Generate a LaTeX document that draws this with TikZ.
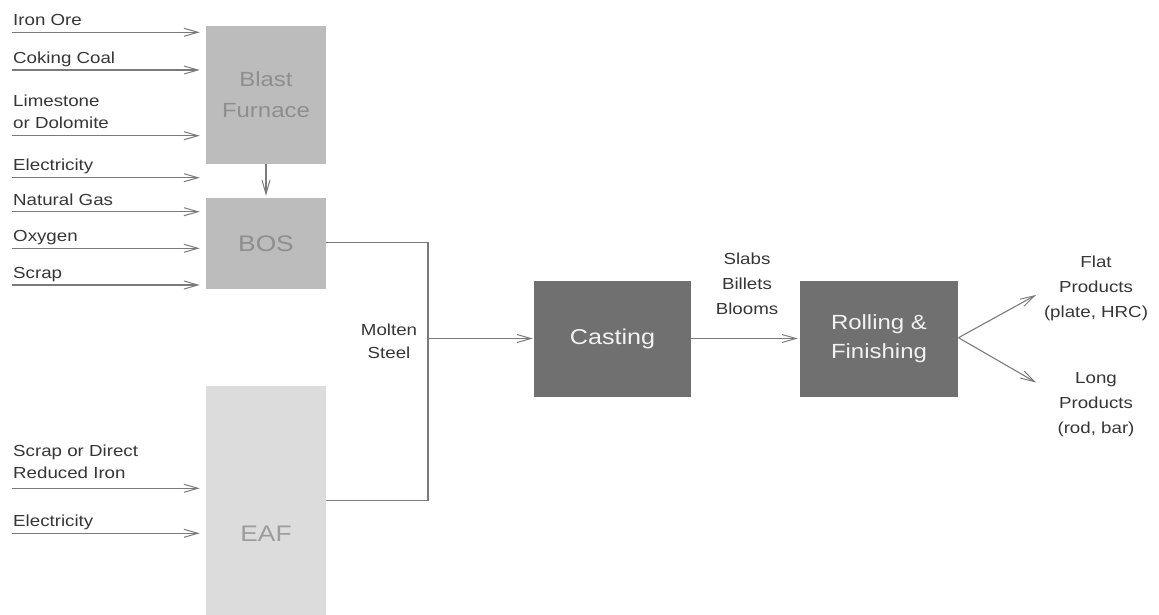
\documentclass[tikz,border=0pt]{standalone}
\usepackage{fontspec}
\setmainfont{Liberation Sans}[FakeStretch=1.17]
\usetikzlibrary{arrows.meta}
\definecolor{lightbox}{HTML}{BCBCBD}
\definecolor{paleBox}{HTML}{DCDCDD}
\definecolor{darkbox}{HTML}{707071}
\definecolor{lightboxtext}{HTML}{8E8E8E}
\definecolor{paleboxtext}{HTML}{9C9C9C}
\definecolor{darkboxtext}{HTML}{F2F2F2}
\definecolor{labeltext}{HTML}{363636}
\definecolor{linecol}{HTML}{7A7A7A}
\tikzset{
  x=1pt, y=-1pt,
  procbox/.style={draw=none, inner sep=0pt, align=center},
  lightproc/.style={procbox, fill=lightbox, text=lightboxtext},
  paleproc/.style={procbox, fill=paleBox, text=paleboxtext},
  darkproc/.style={procbox, fill=darkbox, text=darkboxtext},
  inlabel/.style={inner sep=0pt, anchor=base west, align=left, text=labeltext,
     font=\fontsize{16}{22}\selectfont},
  midlabel/.style={inner sep=0pt, align=center, text=labeltext,
     font=\fontsize{16}{25}\selectfont},
  flow/.style={draw=linecol, line width=1.1pt,
     -{Straight Barb[length=14pt,width=8pt,line width=1pt]}},
  plainflow/.style={draw=linecol, line width=1.1pt},
}
\begin{document}
\begin{tikzpicture}
\useasboundingbox (0,0) rectangle (1159,615);

% process boxes
\node[lightproc, minimum width=120pt, minimum height=138pt,
      font=\fontsize{20.5}{31}\selectfont] (bf) at (266,95) {Blast\\Furnace};
\node[lightproc, minimum width=120pt, minimum height=91pt,
      font=\fontsize{22.5}{28}\selectfont] (bos) at (266,243.5) {BOS};
\path[fill=paleBox] (206,386) rectangle (326,615);
\node[paleproc, fill=none, minimum width=120pt, minimum height=229pt] (eaf) at (266,500.5) {};
\node[inner sep=0pt, text=paleboxtext, font=\fontsize{22.5}{28}\selectfont] (eaftxt) at (266,533.5) {EAF};
\node[darkproc, minimum width=157pt, minimum height=116pt,
      font=\fontsize{21.5}{28}\selectfont] (cast) at (612.5,339) {Casting};
\node[darkproc, minimum width=158pt, minimum height=116pt,
      font=\fontsize{20.5}{29}\selectfont] (roll) at (879,339) {Rolling \&\\Finishing};

% inputs
\coordinate (i1) at (12,32.3);
\coordinate (i2) at (12,70);
\coordinate (i3) at (12,135.7);
\coordinate (i4) at (12,177.7);
\coordinate (i5) at (12,211.7);
\coordinate (i6) at (12,248.3);
\coordinate (i7) at (12,285);
\coordinate (e1) at (12,488.3);
\coordinate (e2) at (12,533.3);

\foreach \c in {i1,i2,i3,i4} {
  \draw[flow, shorten >=6pt] (\c) -- (\c -| bf.west);
}
\foreach \c in {i5,i6,i7} {
  \draw[flow, shorten >=6pt] (\c) -- (\c -| bos.west);
}
\foreach \c in {e1,e2} {
  \draw[flow, shorten >=6pt] (\c) -- (\c -| eaf.west);
}

\node[inlabel] (l1) at (13,26) {Iron Ore};
\node[inlabel] (l2) at (13,63.5) {Coking Coal};
\node[inlabel] (l3) at (13,128.5) {Limestone\\or Dolomite};
\node[inlabel] (l4) at (13,171) {Electricity};
\node[inlabel] (l5) at (13,205) {Natural Gas};
\node[inlabel] (l6) at (13,241.5) {Oxygen};
\node[inlabel] (l7) at (13,278) {Scrap};
\node[inlabel] (l8) at (13,478) {Scrap or Direct\\Reduced Iron};
\node[inlabel] (l9) at (13,526.5) {Electricity};

% blast furnace to BOS
\draw[flow, shorten >=2pt] (bf.south) -- (bos.north);

% merging molten steel
\coordinate (join) at (428,338.5);
\draw[plainflow] (bos.east |- 0,242.7) -| (join);
\draw[plainflow] (eaf.east |- 0,500.5) -| (join);
\draw[flow, shorten >=1pt] (join) -- (cast.west |- join);
\node[midlabel, font=\fontsize{16}{23}\selectfont] (molten) at (389,341) {Molten\\Steel};

% casting to rolling
\draw[flow, shorten >=2pt] (cast.east |- 0,338.5) -- (roll.west |- 0,338.5);
\node[midlabel] (slabs) at (747,283.5) {Slabs\\Billets\\Blooms};

% products
\coordinate (rout) at (958.5,337.7);
\coordinate (flatend) at (1036,295);
\coordinate (longend) at (1036,382.5);
\draw[flow] (rout) -- (flatend);
\draw[flow] (rout) -- (longend);
\node[midlabel] (flat) at (1096,288) {Flat\\Products\\(plate, HRC)};
\node[midlabel] (long) at (1096,405) {Long\\Products\\(rod, bar)};
\end{tikzpicture}
\end{document}
